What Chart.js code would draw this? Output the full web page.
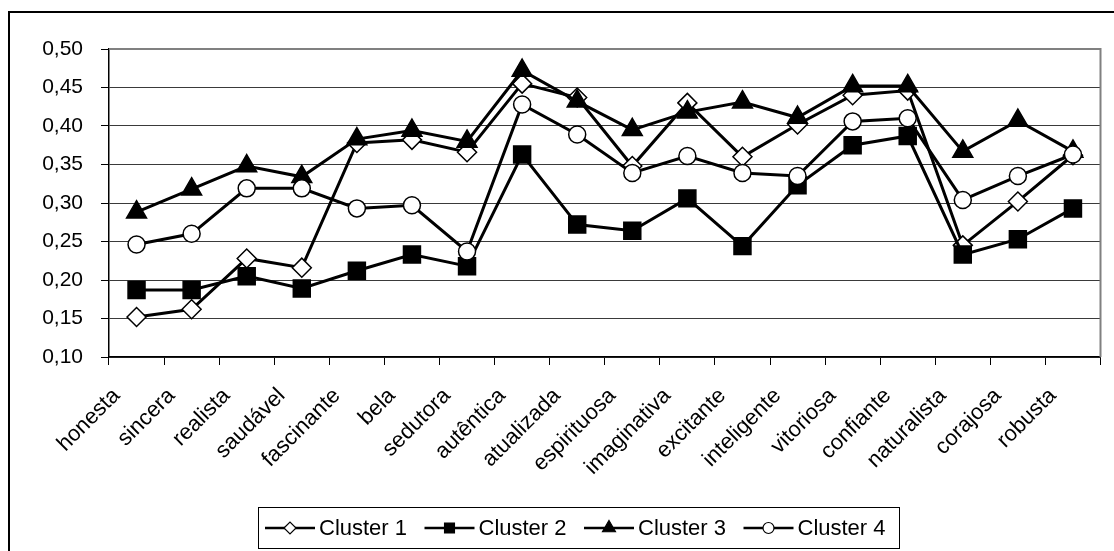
<!DOCTYPE html>
<html>
<head>
<meta charset="utf-8">
<script src="https://cdn.jsdelivr.net/npm/chart.js@4.4.0/dist/chart.umd.min.js"></script>
<style>
  html, body { margin: 0; padding: 0; background: #fff; }
  canvas { display: block; }
</style>
</head>
<body>
<canvas id="clusterChart" width="1114" height="551"></canvas>
<script>
const categorias = ['honesta', 'sincera', 'realista', 'saudável', 'fascinante', 'bela', 'sedutora',
  'autêntica', 'atualizada', 'espirituosa', 'imaginativa', 'excitante', 'inteligente',
  'vitoriosa', 'confiante', 'naturalista', 'corajosa', 'robusta'];

const cluster1 = [0.152, 0.162, 0.228, 0.216, 0.378, 0.382, 0.366, 0.455, 0.437, 0.348,
  0.430, 0.360, 0.402, 0.440, 0.446, 0.245, 0.302, 0.362];
const cluster2 = [0.187, 0.187, 0.205, 0.189, 0.212, 0.233, 0.218, 0.363, 0.272, 0.264,
  0.306, 0.244, 0.323, 0.375, 0.387, 0.233, 0.253, 0.293];
const cluster3 = [0.288, 0.318, 0.348, 0.334, 0.383, 0.394, 0.380, 0.472, 0.432, 0.395,
  0.418, 0.431, 0.411, 0.452, 0.452, 0.367, 0.407, 0.367];
const cluster4 = [0.246, 0.260, 0.319, 0.319, 0.293, 0.297, 0.237, 0.428, 0.389, 0.339,
  0.361, 0.339, 0.335, 0.406, 0.410, 0.304, 0.335, 0.363];

const nomesSeries = ['Cluster 1', 'Cluster 2', 'Cluster 3', 'Cluster 4'];

const FONTE = '"Liberation Sans", Arial, sans-serif';

// estilo de cada serie (marcador do Excel)
const estilos = [
  { pointStyle: 'rectRot', radius: 9.5, fill: '#fff', legRadius: 6 },
  { pointStyle: 'rect', radius: 12, fill: '#000', legRadius: 7 },
  { pointStyle: 'triangle', radius: 11.5, fill: '#000', legRadius: 7.5 },
  { pointStyle: 'circle', radius: 8.5, fill: '#fff', legRadius: 5.5 }
];

const moldura = {
  id: 'moldura',
  beforeDraw(chart) {
    const ctx = chart.ctx;
    ctx.save();
    ctx.fillStyle = '#fff';
    ctx.fillRect(0, 0, chart.width, chart.height);
    ctx.strokeStyle = '#000';
    ctx.lineWidth = 2;
    ctx.strokeRect(9, 12, 1200, 700);
    ctx.restore();
  },
  beforeDatasetsDraw(chart) {
    const { ctx, chartArea: a } = chart;
    ctx.save();
    ctx.strokeStyle = '#808080';
    ctx.lineWidth = 2;
    ctx.beginPath();
    ctx.moveTo(a.left, a.top);
    ctx.lineTo(a.right, a.top);
    ctx.lineTo(a.right, a.bottom);
    ctx.stroke();
    ctx.restore();
  },
  afterDraw(chart) {
    const ctx = chart.ctx;
    ctx.save();
    ctx.strokeStyle = '#000';
    ctx.lineWidth = 1;
    ctx.strokeRect(258.5, 507.5, 641, 41);
    ctx.font = '22px ' + FONTE;
    ctx.textBaseline = 'middle';
    ctx.textAlign = 'left';
    const yc = 528;
    nomesSeries.forEach((nome, i) => {
      const x0 = 265 + i * 159.5;
      ctx.strokeStyle = '#000';
      ctx.lineWidth = 2.5;
      ctx.beginPath();
      ctx.moveTo(x0, yc);
      ctx.lineTo(x0 + 50, yc);
      ctx.stroke();
      const e = estilos[i];
      ctx.fillStyle = e.fill;
      ctx.lineWidth = 1.2;
      Chart.helpers.drawPoint(ctx, { pointStyle: e.pointStyle, radius: e.legRadius, rotation: 0, borderWidth: 1.2 }, x0 + 25, yc);
      ctx.fillStyle = '#000';
      ctx.fillText(nome, x0 + 54, yc + 1);
    });
    ctx.restore();
  }
};

const series = [cluster1, cluster2, cluster3, cluster4];

new Chart(document.getElementById('clusterChart'), {
  type: 'line',
  data: {
    labels: categorias,
    datasets: series.map((valores, i) => ({
      label: nomesSeries[i],
      data: valores,
      borderColor: '#000',
      borderWidth: 3,
      tension: 0,
      pointStyle: estilos[i].pointStyle,
      pointRadius: estilos[i].radius,
      pointBackgroundColor: estilos[i].fill,
      pointBorderColor: '#000',
      pointBorderWidth: 1.5,
      order: 4 - i
    }))
  },
  options: {
    responsive: false,
    animation: false,
    layout: { padding: { top: 49, right: 8, left: 0, bottom: 0 } },
    plugins: {
      legend: { display: false },
      tooltip: { enabled: false }
    },
    scales: {
      x: {
        offset: true,
        grid: { offset: true, drawOnChartArea: false, drawTicks: true, tickLength: 8, color: '#000' },
        border: { color: '#000', width: 1.5 },
        ticks: {
          autoSkip: false,
          maxRotation: 45,
          minRotation: 45,
          color: '#000',
          padding: 18,
          labelOffset: -20,
          font: { size: 22, family: FONTE }
        },
        afterFit(scale) { scale.height = 194; }
      },
      y: {
        min: 0.10,
        max: 0.50,
        grid: {
          color: ctx => (ctx.tick && Math.abs(ctx.tick.value - 0.5) < 1e-6) ? '#808080' : '#3a3a3a',
          tickColor: '#000',
          tickLength: 8,
          lineWidth: 1
        },
        border: { color: '#000', width: 1.5 },
        ticks: {
          stepSize: 0.05,
          color: '#000',
          padding: 18,
          font: { size: 21, family: FONTE },
          callback: v => v.toFixed(2).replace('.', ',')
        },
        afterFit(scale) { scale.width = 109; }
      }
    }
  },
  plugins: [moldura]
});
</script>
</body>
</html>
